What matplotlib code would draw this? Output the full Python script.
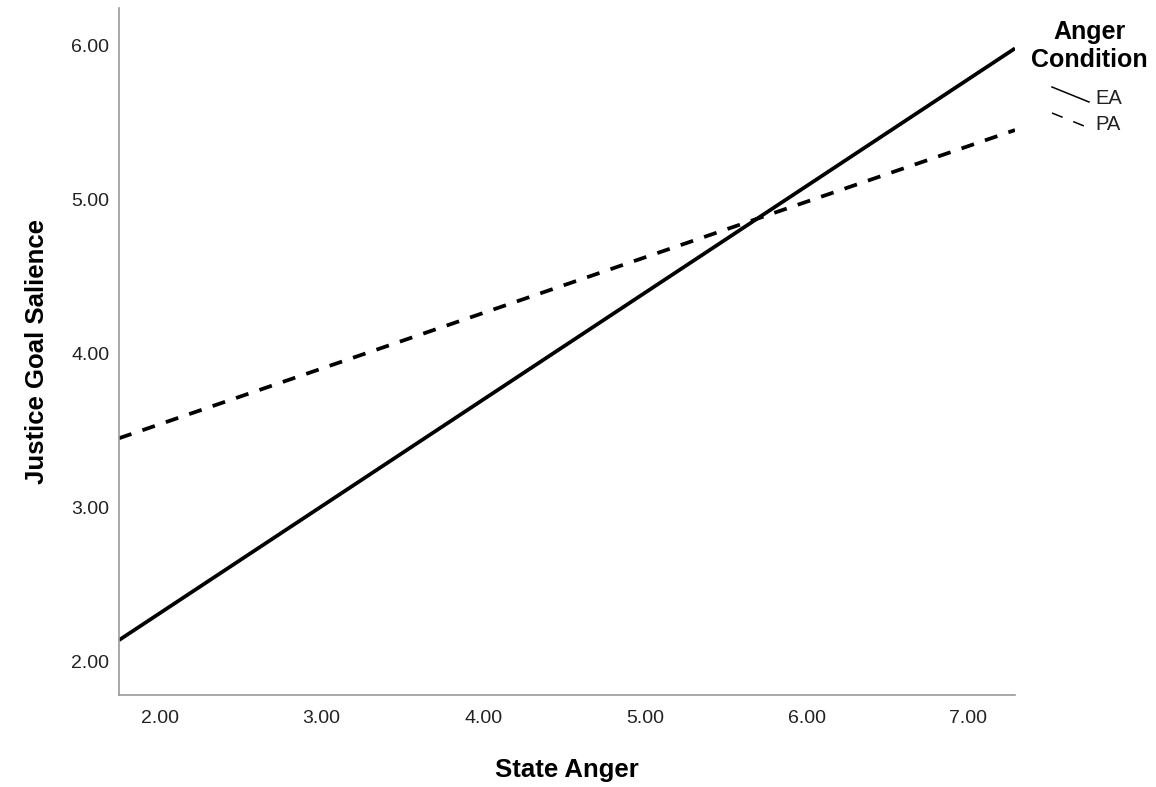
import numpy as np
import matplotlib
matplotlib.use("Agg")
import matplotlib.pyplot as plt
from matplotlib.lines import Line2D

plt.rcParams["font.family"] = ["Liberation Sans", "DejaVu Sans"]

# Fit line end points
state_anger = [1.746, 7.29]
ea_values = [2.14, 5.98]
pa_values = [3.45, 5.45]
tick_values = [2.0, 3.0, 4.0, 5.0, 6.0, 7.0]
y_tick_values = [2.0, 3.0, 4.0, 5.0, 6.0]
groups = ["EA", "PA"]

W, H = 1156, 787
fig = plt.figure(figsize=(W / 100, H / 100), dpi=100)
ax = fig.add_axes([119 / W, 1 - 695 / H, (1015 - 119) / W, (695 - 8) / H])

ax.plot(state_anger, ea_values, color="black", linewidth=2.7,
        solid_capstyle="butt")
ax.plot(state_anger, pa_values, color="black", linewidth=2.7,
        dashes=(3.5, 3.1), dash_capstyle="butt")

ax.set_xlim(1.746, 7.29)
ax.set_ylim(1.784, 6.242)

ax.set_xticks(tick_values)
ax.set_xticklabels([f"{v:.2f}" for v in tick_values])
ax.set_yticks(y_tick_values)
ax.set_yticklabels([f"{v:.2f}" for v in y_tick_values])
ax.tick_params(axis="x", length=0, pad=11, labelsize=14, labelcolor="#222222")
ax.tick_params(axis="y", length=0, pad=7, labelsize=14, labelcolor="#222222")

for side in ["top", "right"]:
    ax.spines[side].set_visible(False)
for side in ["left", "bottom"]:
    ax.spines[side].set_color("#999999")
    ax.spines[side].set_linewidth(1.2)

ax.set_xlabel("State Anger", fontsize=18.5, fontweight="bold", labelpad=22)
ax.set_ylabel("Justice Goal Salience", fontsize=18.5, fontweight="bold",
              labelpad=16)

# Legend (SPSS style, sloped keys)
def px(x, y):
    return x / W, 1 - y / H

fig.text(*px(1089, 32), "Anger", ha="center", va="center",
         fontsize=18, fontweight="bold")
fig.text(*px(1089, 60), "Condition", ha="center", va="center",
         fontsize=18, fontweight="bold")
key_styles = [dict(), dict(dashes=(7.5, 7.5))]
for i, (name, style) in enumerate(zip(groups, key_styles)):
    y0 = 87 + i * 26
    x0, y_a = px(1052, y0)
    x1, y_b = px(1089, y0 + 15)
    fig.add_artist(Line2D([x0, x1], [y_a, y_b], color="black",
                          linewidth=1.1, **style))
    fig.text(*px(1095, y0 + 11), name, ha="left", va="center",
             fontsize=14.5, color="#222222")

fig.savefig("out.png", dpi=100)
